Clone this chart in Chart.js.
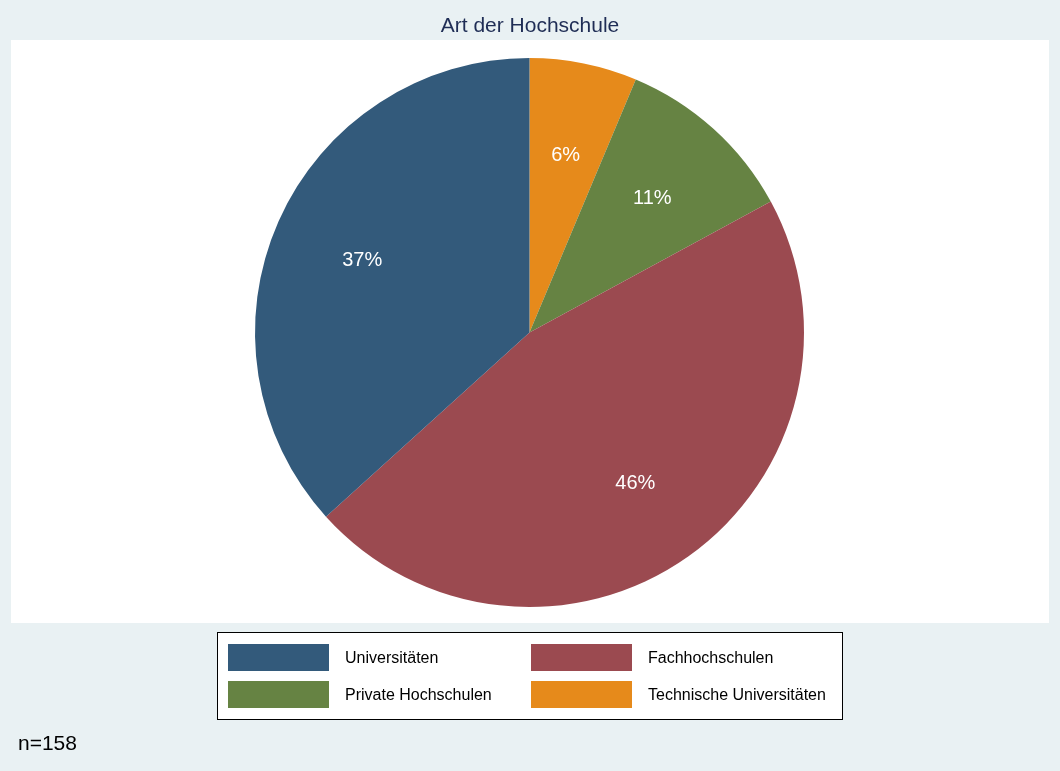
<!DOCTYPE html>
<html>
<head>
<meta charset="utf-8">
<script src="https://cdn.jsdelivr.net/npm/chart.js@4/dist/chart.umd.min.js"></script>
<style>
  html, body { margin: 0; padding: 0; background: #e9f1f3; }
  #wrap { width: 1060px; height: 771px; position: relative; }
</style>
</head>
<body>
<div id="wrap"><canvas id="pie" width="1060" height="771"></canvas></div>
<script>
// Data (Stata order, counter-clockwise from 12 o'clock)
const categories = ['Universitäten', 'Fachhochschulen', 'Private Hochschulen', 'Technische Universitäten'];
const counts = [58, 73, 17, 10];
const colors = ['#335a7b', '#9b4a50', '#668343', '#e68a1b'];
const titleText = 'Art der Hochschule';
const noteText = 'n=158';

const total = counts.reduce((a, b) => a + b, 0);

// Chart.js goes clockwise, so reverse to get the same look
const chartLabels = categories.slice().reverse();
const chartData = counts.slice().reverse();
const chartColors = colors.slice().reverse();

const FONT = '"Liberation Sans", Arial, sans-serif';

// background, plot region, title, legend box, note
const frame = {
    id: 'frame',
    beforeDraw(c) {
        const ctx = c.ctx;
        ctx.save();
        ctx.fillStyle = '#e9f1f3';
        ctx.fillRect(0, 0, c.width, c.height);
        ctx.fillStyle = '#ffffff';
        ctx.fillRect(11, 40, 1038, 583);

        ctx.fillStyle = '#1f2d55';
        ctx.font = '21px ' + FONT;
        ctx.textAlign = 'center';
        ctx.textBaseline = 'middle';
        ctx.fillText(titleText, 530, 26);

        // legend
        ctx.fillStyle = '#ffffff';
        ctx.fillRect(217.5, 632.5, 625, 87);
        ctx.strokeStyle = '#000000';
        ctx.lineWidth = 1;
        ctx.strokeRect(217.5, 632.5, 625, 87);
        ctx.font = '16px ' + FONT;
        ctx.textAlign = 'left';
        categories.forEach((name, i) => {
            const col = i % 2, row = Math.floor(i / 2);
            const x = 228 + col * 303;
            const y = 644 + row * 37;
            ctx.fillStyle = colors[i];
            ctx.fillRect(x, y, 101, 27);
            ctx.fillStyle = '#000000';
            ctx.fillText(name, x + 117, y + 15);
        });

        ctx.font = '21px ' + FONT;
        ctx.fillStyle = '#000000';
        ctx.fillText(noteText, 18, 744);
        ctx.restore();
    }
};

// percent labels at 2/3 of the radius
const pctLabels = {
    id: 'pctLabels',
    afterDatasetsDraw(c) {
        const ctx = c.ctx;
        const meta = c.getDatasetMeta(0);
        ctx.save();
        ctx.fillStyle = '#ffffff';
        ctx.font = '20px ' + FONT;
        ctx.textAlign = 'center';
        ctx.textBaseline = 'middle';
        meta.data.forEach((arc, i) => {
            const p = arc.getProps(['x', 'y', 'startAngle', 'endAngle', 'outerRadius'], true);
            const mid = (p.startAngle + p.endAngle) / 2;
            const r = p.outerRadius * 2 / 3;
            const pct = Math.round(chartData[i] / total * 100) + '%';
            ctx.fillText(pct, p.x + Math.cos(mid) * r, p.y + Math.sin(mid) * r + 2);
        });
        ctx.restore();
    }
};

new Chart(document.getElementById('pie'), {
    type: 'pie',
    data: {
        labels: chartLabels,
        datasets: [{
            data: chartData,
            backgroundColor: chartColors,
            borderWidth: 0
        }]
    },
    options: {
        responsive: false,
        animation: false,
        layout: { padding: { left: 11, right: 12, top: 58, bottom: 164 } },
        plugins: {
            legend: { display: false },
            title: { display: false },
            tooltip: { enabled: false }
        }
    },
    plugins: [frame, pctLabels]
});
</script>
</body>
</html>
